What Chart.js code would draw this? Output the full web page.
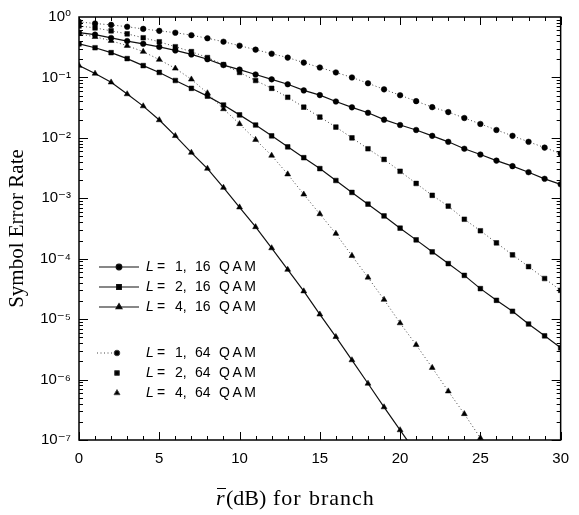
<!DOCTYPE html>
<html>
<head>
<meta charset="utf-8">
<script src="https://cdn.jsdelivr.net/npm/chart.js@4.4.0/dist/chart.umd.min.js"></script>
<style>
  html, body { margin: 0; padding: 0; background: #fff; }
  #wrap { width: 579px; height: 515px; }
</style>
</head>
<body>
<div id="wrap"><canvas id="ser" width="579" height="515"></canvas></div>
<script>
/* Symbol error rate vs average SNR per branch, 16/64 QAM with L-branch diversity */

const snrDb = [0,1,2,3,4,5,6,7,8,9,10,11,12,13,14,15,16,17,18,19,20,21,22,23,24,25,26,27,28,29,30];

// 16 QAM (solid lines)
const ser16L1 = [0.55,0.51,0.45,0.40,0.36,0.32,0.28,0.24,0.20,0.16,0.135,0.112,0.093,0.077,0.061,0.051,
                 0.040,0.032,0.026,0.020,0.0163,0.0135,0.0108,0.0086,0.0066,0.0053,0.0042,0.0034,0.0027,0.0021,0.0017];
const ser16L2 = [0.36,0.31,0.257,0.205,0.157,0.121,0.089,0.066,0.049,0.035,0.024,0.0163,0.0108,0.0071,0.0047,0.0031,
                 0.00197,0.00125,8.0e-4,5.1e-4,3.2e-4,2.05e-4,1.3e-4,8.3e-5,5.3e-5,3.2e-5,2.05e-5,1.35e-5,8.3e-6,5.3e-6,3.35e-6];
const ser16L4 = [0.157,0.116,0.083,0.053,0.0335,0.0197,0.0108,0.0057,0.0031,0.0015,7.1e-4,3.35e-4,1.5e-4,6.6e-5,2.9e-5,1.2e-5,
                 5.1e-6,2.1e-6,8.6e-7,3.5e-7,1.46e-7,6.1e-8];

// 64 QAM (dotted lines)
const ser64L1 = [0.83,0.78,0.74,0.69,0.635,0.59,0.55,0.50,0.445,0.39,0.335,0.288,0.247,0.213,0.176,0.146,
                 0.121,0.100,0.080,0.0635,0.0507,0.0405,0.0322,0.0267,0.0213,0.0170,0.0135,0.0108,0.0086,0.0069,0.0055];
const ser64L2 = [0.71,0.66,0.59,0.526,0.453,0.389,0.322,0.267,0.213,0.163,0.121,0.089,0.066,0.047,0.0322,0.0221,
                 0.0151,0.0100,0.0066,0.0044,0.0028,0.00176,0.00112,7.4e-4,4.5e-4,2.9e-4,1.83e-4,1.16e-4,7.4e-5,4.7e-5,3.0e-5];
const ser64L4 = [0.526,0.47,0.405,0.335,0.267,0.197,0.141,0.093,0.055,0.030,0.017,0.0093,0.0051,0.0025,0.00116,5.5e-4,
                 2.6e-4,1.12e-4,4.9e-5,2.1e-5,8.6e-6,3.75e-6,1.57e-6,6.4e-7,2.7e-7,1.08e-7,4.4e-8];

const yDecades = [1e-7,1e-6,1e-5,1e-4,1e-3,1e-2,1e-1,1];
const legendL   = ['1,','2,','4,','1,','2,','4,'];
const legendMod = ['16','16','16','64','64','64'];

const pts = arr => arr.map((v, i) => ({ x: snrDb[i], y: v }));

const SUP = { '-': '\u207B', '0': '\u2070', '1': '\u00B9', '2': '\u00B2', '3': '\u00B3',
              '4': '\u2074', '5': '\u2075', '6': '\u2076', '7': '\u2077', '8': '\u2078', '9': '\u2079' };
const decadeLabel = v => '10' + String(Math.round(Math.log10(v))).split('').map(c => SUP[c]).join('');

const SANS  = '"Liberation Sans", Arial, sans-serif';
const SERIF = '"Liberation Serif", "Times New Roman", serif';

function series(label, data, style, dotted) {
  return {
    label,
    data: pts(data),
    borderColor: dotted ? '#444' : '#111',
    borderWidth: dotted ? 1 : 1.2,
    borderDash: dotted ? [1, 2.5] : [],
    pointStyle: style,
    pointRadius: style === 'triangle' ? 3.4 : (style === 'rect' ? 3.3 : 2.8),
    pointBackgroundColor: '#000',
    pointBorderColor: '#000',
    pointBorderWidth: 0.5,
    fill: false,
    tension: 0,
  };
}

// frame + inward tick marks on all four sides
const frameTicks = {
  id: 'frameTicks',
  afterDraw(chart) {
    const { ctx, chartArea: a, scales: { x, y } } = chart;
    ctx.save();
    ctx.strokeStyle = '#000';
    ctx.lineWidth = 1.5;
    ctx.strokeRect(a.left, a.top, a.right - a.left, a.bottom - a.top);
    ctx.lineWidth = 1;
    ctx.beginPath();
    for (let v = 0; v <= 30; v++) {
      const px = Math.round(x.getPixelForValue(v)) + 0.5;
      const len = v % 5 === 0 ? 8 : 4;
      ctx.moveTo(px, a.bottom); ctx.lineTo(px, a.bottom - len);
      ctx.moveTo(px, a.top);    ctx.lineTo(px, a.top + len);
    }
    for (let e = -7; e < 0; e++) {
      for (let m = 1; m <= 9; m++) {
        const py = Math.round(y.getPixelForValue(m * Math.pow(10, e))) + 0.5;
        const len = m === 1 ? 9 : 4;
        ctx.moveTo(a.left, py);  ctx.lineTo(a.left + len, py);
        ctx.moveTo(a.right, py); ctx.lineTo(a.right - len, py);
      }
    }
    ctx.stroke();
    ctx.restore();
  }
};

// legend drawn inside the plot, two groups of three
const insideLegend = {
  id: 'insideLegend',
  afterDraw(chart) {
    const { ctx } = chart;
    const rows = [267, 287, 307, 353, 373, 393];
    ctx.save();
    chart.data.datasets.forEach((ds, i) => {
      const yy = rows[i];
      const dotted = i >= 3;
      ctx.strokeStyle = ds.borderColor;
      ctx.lineWidth = ds.borderWidth;
      ctx.setLineDash(ds.borderDash);
      if (!dotted) {
        ctx.beginPath(); ctx.moveTo(99, yy); ctx.lineTo(139, yy); ctx.stroke();
      } else if (i === 3) {
        ctx.beginPath(); ctx.moveTo(97, yy); ctx.lineTo(117, yy); ctx.stroke();
      }
      ctx.setLineDash([]);
      ctx.fillStyle = '#000';
      Chart.helpers.drawPoint(ctx, {
        pointStyle: ds.pointStyle, radius: ds.pointRadius, borderWidth: 0.5, rotation: 0
      }, dotted ? 117 : 119, yy);

      ctx.fillStyle = '#000';
      ctx.textBaseline = 'middle';
      ctx.font = 'italic 14px ' + SANS;
      ctx.fillText('L', 146, yy);
      ctx.font = '14px ' + SANS;
      ctx.fillText('=', 157, yy);
      ctx.fillText(legendL[i], 175, yy);
      ctx.fillText(legendMod[i], 195, yy);
      if ('letterSpacing' in ctx) ctx.letterSpacing = '2.5px';
      ctx.fillText('QAM', 219, yy);
      if ('letterSpacing' in ctx) ctx.letterSpacing = '0px';
    });
    ctx.restore();
  }
};

// x-axis title with italic r and overbar
const xTitle = {
  id: 'xTitle',
  afterDraw(chart) {
    const { ctx } = chart;
    const base = 505;
    ctx.save();
    ctx.fillStyle = '#000';
    ctx.strokeStyle = '#000';
    ctx.textBaseline = 'alphabetic';
    ctx.font = 'italic 22px ' + SERIF;
    ctx.fillText('r', 216, base);
    ctx.lineWidth = 1;
    ctx.beginPath(); ctx.moveTo(217, 488.5); ctx.lineTo(226, 488.5); ctx.stroke();
    ctx.font = '22px ' + SERIF;
    ctx.fillText('(dB)', 226, base);
    if ('letterSpacing' in ctx) ctx.letterSpacing = '1px';
    ctx.fillText('for', 273, base);
    ctx.fillText('branch', 309, base);
    if ('letterSpacing' in ctx) ctx.letterSpacing = '0px';
    ctx.restore();
  }
};

new Chart(document.getElementById('ser'), {
  type: 'line',
  data: {
    datasets: [
      series('L = 1, 16 QAM', ser16L1, 'circle',   false),
      series('L = 2, 16 QAM', ser16L2, 'rect',     false),
      series('L = 4, 16 QAM', ser16L4, 'triangle', false),
      series('L = 1, 64 QAM', ser64L1, 'circle',   true),
      series('L = 2, 64 QAM', ser64L2, 'rect',     true),
      series('L = 4, 64 QAM', ser64L4, 'triangle', true),
    ],
  },
  options: {
    responsive: false,
    animation: false,
    devicePixelRatio: 1,
    layout: { padding: { top: 13, right: 9, left: 0, bottom: 0 } },
    plugins: { legend: { display: false }, tooltip: { enabled: false } },
    scales: {
      x: {
        type: 'linear',
        min: 0, max: 30,
        afterFit: s => { s.height = 75; },
        grid: { display: false, drawTicks: false },
        border: { display: false },
        ticks: {
          stepSize: 5,
          padding: 10,
          color: '#000',
          font: { family: SANS, size: 15 },
        },
        title: { display: false },
      },
      y: {
        type: 'logarithmic',
        min: 1e-7, max: 1,
        afterFit: s => { s.width = 79; },
        afterBuildTicks: s => { s.ticks = yDecades.map(v => ({ value: v })); },
        grid: { display: false, drawTicks: false },
        border: { display: false },
        ticks: {
          padding: 8,
          color: '#000',
          font: { family: '"Liberation Sans", "DejaVu Sans", sans-serif', size: 15 },
          callback: v => decadeLabel(v),
        },
        title: {
          display: true,
          text: 'Symbol Error Rate',
          color: '#000',
          padding: { top: 5, bottom: 0 },
          font: { family: SERIF, size: 21 },
        },
      },
    },
  },
  plugins: [frameTicks, insideLegend, xTitle],
});
</script>
</body>
</html>
